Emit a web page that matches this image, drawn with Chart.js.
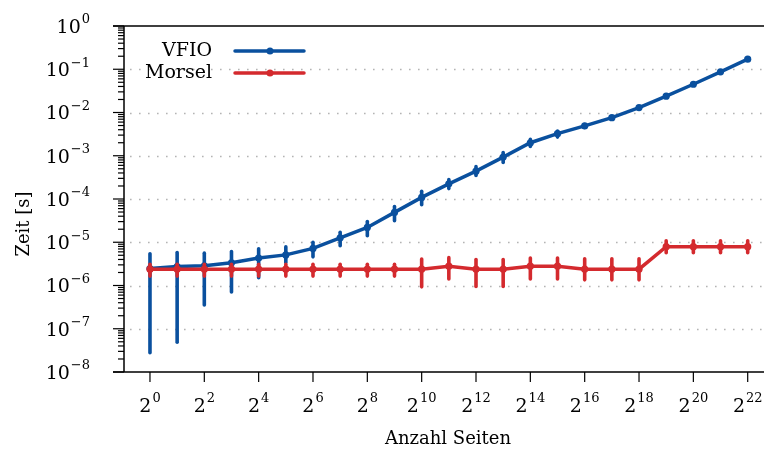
<!DOCTYPE html>
<html>
<head>
<meta charset="utf-8">
<script src="https://cdn.jsdelivr.net/npm/chart.js@4"></script>
<style>
  body { margin: 0; background: #fff; }
  canvas { display: block; }
</style>
</head>
<body>
<canvas id="chart" width="764" height="450"></canvas>
<script>
// Page counts (x) and measured times in seconds
const pages = [1, 2, 4, 8, 16, 32, 64, 128, 256, 512, 1024, 2048, 4096, 8192,
    16384, 32768, 65536, 131072, 262144, 524288, 1048576, 2097152, 4194304];

const vfio = [2.47e-6, 2.75e-6, 2.85e-6, 3.35e-6, 4.3e-6, 5.1e-6, 7.2e-6, 1.27e-5,
    2.2e-5, 4.9e-5, 1.09e-4, 2.24e-4, 4.4e-4, 9.3e-4, 2.0e-3, 3.24e-3, 4.9e-3,
    7.6e-3, 1.3e-2, 2.38e-2, 4.5e-2, 8.7e-2, 0.171];
const vfioLow = [2.8e-8, 4.9e-8, 3.55e-7, 7.1e-7, 1.52e-6, 3.4e-6, 4.6e-6, 8.3e-6,
    1.42e-5, 3.15e-5, 7.4e-5, 1.74e-4, 3.5e-4, 7.0e-4, 1.64e-3, 2.7e-3, 4.5e-3,
    7.2e-3, 1.24e-2, 2.3e-2, 4.35e-2, 8.4e-2, 0.166];
const vfioHigh = [5.4e-6, 5.8e-6, 5.6e-6, 6.1e-6, 7.1e-6, 7.9e-6, 1.0e-5, 1.7e-5,
    3.0e-5, 6.7e-5, 1.51e-4, 2.82e-4, 5.6e-4, 1.19e-3, 2.39e-3, 3.72e-3, 5.3e-3,
    8.0e-3, 1.36e-2, 2.46e-2, 4.65e-2, 9.0e-2, 0.176];

const morsel = [2.39e-6, 2.39e-6, 2.39e-6, 2.39e-6, 2.39e-6, 2.39e-6, 2.39e-6, 2.39e-6,
    2.39e-6, 2.39e-6, 2.39e-6, 2.8e-6, 2.39e-6, 2.39e-6, 2.8e-6, 2.8e-6, 2.39e-6,
    2.39e-6, 2.39e-6, 7.9e-6, 7.9e-6, 7.9e-6, 7.9e-6];
const morselLow = [1.65e-6, 1.65e-6, 1.65e-6, 1.65e-6, 1.65e-6, 1.65e-6, 1.65e-6, 1.65e-6,
    1.65e-6, 1.65e-6, 9.3e-7, 1.42e-6, 9.5e-7, 9.5e-7, 1.42e-6, 1.42e-6, 1.35e-6,
    1.35e-6, 1.35e-6, 5.7e-6, 5.7e-6, 5.7e-6, 5.7e-6];
const morselHigh = [3.1e-6, 3.1e-6, 3.1e-6, 3.1e-6, 3.1e-6, 3.1e-6, 3.1e-6, 3.1e-6,
    3.1e-6, 3.1e-6, 4.1e-6, 4.4e-6, 4.0e-6, 4.0e-6, 4.3e-6, 4.3e-6, 4.14e-6,
    4.14e-6, 4.14e-6, 1.08e-5, 1.08e-5, 1.08e-5, 1.08e-5];

// tick labels: x at even powers of two, y at each decade
const xTickExps = [0, 2, 4, 6, 8, 10, 12, 14, 16, 18, 20, 22];
const yTickExps = [0, -1, -2, -3, -4, -5, -6, -7, -8];

const BLUE = '#0a509e';
const RED = '#d42a2e';
const FONT = '"DejaVu Serif", "Liberation Serif", serif';

const points = (ys) => pages.map((p, i) => ({ x: p, y: ys[i] }));

// error bars drawn right before each dataset's line
const errorBars = {
    id: 'errorBars',
    beforeDatasetDraw(chart, args) {
        const ds = chart.data.datasets[args.index];
        const { ctx, chartArea, scales: { x, y } } = chart;
        ctx.save();
        ctx.beginPath();
        ctx.rect(chartArea.left, chartArea.top, chartArea.right - chartArea.left, chartArea.bottom - chartArea.top);
        ctx.clip();
        ctx.strokeStyle = ds.borderColor;
        ctx.lineWidth = 3.6;
        ctx.lineCap = 'round';
        pages.forEach((p, i) => {
            const px = x.getPixelForValue(p);
            ctx.beginPath();
            ctx.moveTo(px, y.getPixelForValue(ds.errLow[i]));
            ctx.lineTo(px, y.getPixelForValue(ds.errHigh[i]));
            ctx.stroke();
        });
        ctx.restore();
    }
};

function powerLabel(ctx, base, exp, cx, cy, align) {
    ctx.font = '19px ' + FONT;
    const bw = ctx.measureText(base).width;
    ctx.font = '13px ' + FONT;
    const ew = ctx.measureText(exp).width;
    const total = bw + ew + 1;
    let left = align === 'right' ? cx - total : cx - total / 2;
    ctx.textBaseline = 'middle';
    ctx.textAlign = 'left';
    ctx.font = '19px ' + FONT;
    ctx.fillText(base, left, cy);
    ctx.font = '13px ' + FONT;
    ctx.fillText(exp, left + bw + 1, cy - 8);
}

// axes frame, ticks, grid, labels and legend
const decorations = {
    id: 'decorations',
    beforeDatasetsDraw(chart) {
        const { ctx, chartArea: a, scales: { y } } = chart;
        ctx.save();
        ctx.strokeStyle = '#b4b4b4';
        ctx.lineWidth = 1.4;
        ctx.setLineDash([1.6, 7.4]);
        yTickExps.forEach(e => {
            if (e === 0 || e === -8) return;
            const py = Math.round(y.getPixelForValue(Math.pow(10, e))) + 0.5;
            ctx.beginPath();
            ctx.moveTo(a.left + 6, py);
            ctx.lineTo(a.right, py);
            ctx.stroke();
        });
        ctx.restore();
    },
    afterDraw(chart) {
        const { ctx, chartArea: a, scales: { x, y } } = chart;
        ctx.save();
        ctx.strokeStyle = '#000';
        ctx.fillStyle = '#000';
        ctx.lineWidth = 1.5;
        // frame: left, bottom, top
        ctx.beginPath();
        ctx.moveTo(a.left, a.top);
        ctx.lineTo(a.left, a.bottom);
        ctx.moveTo(a.left - 11, a.bottom);
        ctx.lineTo(a.right, a.bottom);
        ctx.moveTo(a.left - 11, a.top);
        ctx.lineTo(a.right, a.top);
        ctx.stroke();

        // y ticks, major and minor
        ctx.lineWidth = 1.2;
        yTickExps.forEach(e => {
            const py = y.getPixelForValue(Math.pow(10, e));
            ctx.beginPath();
            ctx.moveTo(a.left - 11, py);
            ctx.lineTo(a.left, py);
            ctx.stroke();
            powerLabel(ctx, '10', e === 0 ? '0' : '\u2212' + (-e), a.left - 34, py + 2, 'right');
            if (e > -8) {
                for (let m = 2; m <= 9; m++) {
                    const pm = y.getPixelForValue(m * Math.pow(10, e - 1));
                    ctx.beginPath();
                    ctx.moveTo(a.left - 6, pm);
                    ctx.lineTo(a.left, pm);
                    ctx.stroke();
                }
            }
        });

        // x ticks
        xTickExps.forEach(e => {
            const px = x.getPixelForValue(pages[e]);
            ctx.beginPath();
            ctx.moveTo(px, a.bottom);
            ctx.lineTo(px, a.bottom + 10);
            ctx.stroke();
            powerLabel(ctx, '2', String(e), px, a.bottom + 35, 'center');
        });

        // axis titles
        ctx.font = '18px ' + FONT;
        ctx.textAlign = 'center';
        ctx.textBaseline = 'middle';
        ctx.fillText('Anzahl Seiten', 448, 439);
        ctx.save();
        ctx.translate(24, 224);
        ctx.rotate(-Math.PI / 2);
        ctx.fillText('Zeit [s]', 0, 0);
        ctx.restore();

        // legend
        const items = [['VFIO', BLUE, 51], ['Morsel', RED, 73]];
        items.forEach(([label, color, ly]) => {
            ctx.font = '19px ' + FONT;
            ctx.textAlign = 'right';
            ctx.fillStyle = '#000';
            ctx.fillText(label, 212, ly);
            ctx.strokeStyle = color;
            ctx.lineWidth = 3.5;
            ctx.lineCap = 'round';
            ctx.beginPath();
            ctx.moveTo(235, ly);
            ctx.lineTo(304, ly);
            ctx.stroke();
            ctx.fillStyle = color;
            ctx.beginPath();
            ctx.arc(270, ly, 3.5, 0, Math.PI * 2);
            ctx.fill();
        });
        ctx.restore();
    }
};

new Chart(document.getElementById('chart'), {
    type: 'line',
    data: {
        datasets: [
            {
                label: 'VFIO', data: points(vfio), errLow: vfioLow, errHigh: vfioHigh,
                borderColor: BLUE, backgroundColor: BLUE, order: 2
            },
            {
                label: 'Morsel', data: points(morsel), errLow: morselLow, errHigh: morselHigh,
                borderColor: RED, backgroundColor: RED, order: 1
            }
        ]
    },
    options: {
        responsive: false,
        animation: false,
        layout: { autoPadding: false, padding: { top: 26, right: 0, left: 0, bottom: 0 } },
        elements: {
            line: { borderWidth: 3.5, tension: 0 },
            point: { radius: 3.6, borderWidth: 0, hoverRadius: 3.6 }
        },
        plugins: { legend: { display: false }, tooltip: { enabled: false } },
        scales: {
            x: {
                type: 'logarithmic',
                min: Math.pow(2, -0.956),
                max: Math.pow(2, 22.6),
                grid: { display: false },
                border: { display: false },
                ticks: { display: false },
                afterFit: (s) => { s.height = 78; }
            },
            y: {
                type: 'logarithmic',
                min: 1e-8,
                max: 1,
                grid: { display: false },
                border: { display: false },
                ticks: { display: false },
                afterFit: (s) => { s.width = 124; }
            }
        }
    },
    plugins: [errorBars, decorations]
});
</script>
</body>
</html>
